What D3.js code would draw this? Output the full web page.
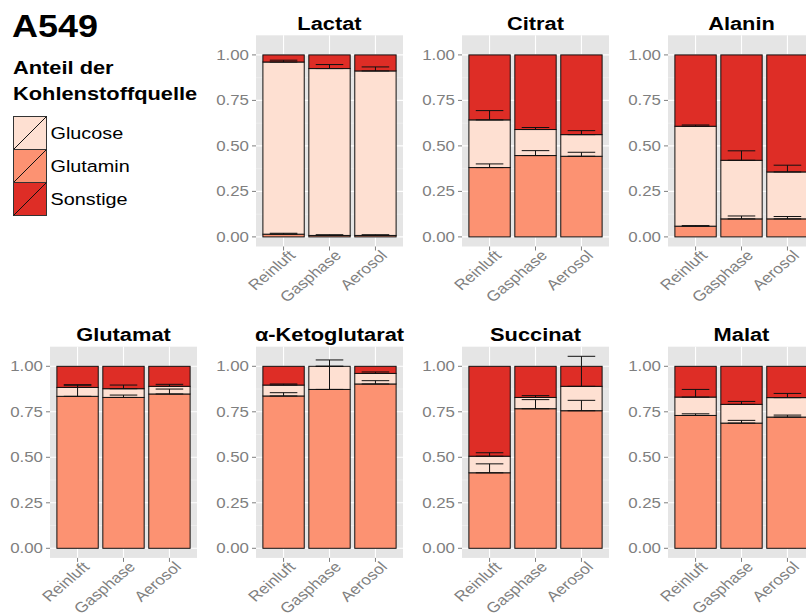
<!DOCTYPE html>
<html>
<head>
<meta charset="utf-8">
<script src="https://cdn.jsdelivr.net/npm/d3@7"></script>
<style>
  html, body { margin: 0; padding: 0; background: #ffffff; }
  svg { display: block; font-family: "Liberation Sans", Arial, sans-serif; }
</style>
</head>
<body>
<svg id="chart" width="806" height="615"></svg>
<script>
// Metabolites (one panel each) and the exposure conditions on each x axis
const metabolites = ["Lactat", "Citrat", "Alanin", "Glutamat", "α-Ketoglutarat", "Succinat", "Malat"];
const conditions = ["Reinluft", "Gasphase", "Aerosol"];
const sources = ["Glucose", "Glutamin", "Sonstige"];
const stackOrder = ["Glutamin", "Glucose", "Sonstige"]; // bottom to top
const yTicks = [0, 0.25, 0.5, 0.75, 1];
const yTickLabels = ["0.00", "0.25", "0.50", "0.75", "1.00"];

// Carbon-source fractions per metabolite: [Reinluft, Gasphase, Aerosol]
const glutaminShare = [
  [0.015, 0.008, 0.008],
  [0.381, 0.447, 0.443],
  [0.059, 0.099, 0.099],
  [0.835, 0.829, 0.848],
  [0.837, 0.873, 0.903],
  [0.415, 0.767, 0.756],
  [0.730, 0.688, 0.721]
];
const glucoseShare = [
  [0.946, 0.917, 0.904],
  [0.262, 0.143, 0.119],
  [0.549, 0.322, 0.258],
  [0.049, 0.048, 0.042],
  [0.060, 0.127, 0.058],
  [0.091, 0.062, 0.134],
  [0.101, 0.103, 0.107]
];
const otherShare = [
  [0.039, 0.075, 0.088],
  [0.357, 0.410, 0.438],
  [0.392, 0.579, 0.643],
  [0.116, 0.123, 0.110],
  [0.103, 0.000, 0.039],
  [0.494, 0.171, 0.110],
  [0.169, 0.209, 0.172]
];
// Standard deviations, drawn upward from the top of each stacked segment
const glutaminSd = [
  [0.005, 0.004, 0.004],
  [0.020, 0.027, 0.022],
  [0.003, 0.016, 0.013],
  [0.064, 0.013, 0.027],
  [0.018, 0.127, 0.018],
  [0.049, 0.050, 0.057],
  [0.009, 0.015, 0.011]
];
const glucoseSd = [
  [0.010, 0.022, 0.022],
  [0.051, 0.011, 0.022],
  [0.007, 0.052, 0.037],
  [0.012, 0.020, 0.011],
  [0.006, 0.035, 0.008],
  [0.019, 0.010, 0.165],
  [0.042, 0.016, 0.023]
];

// Panel grid placement (column, row) for each metabolite
const panelCol = [1, 2, 3, 0, 1, 2, 3];
const panelRow = [0, 0, 0, 1, 1, 1, 1];

const colors = { Glucose: "#FEE0D2", Glutamin: "#FC9272", Sonstige: "#DE2D26" };
const SX = 1.18; // horizontal stretch of the lettering

const svg = d3.select("#chart");

// Build tidy rows for every metabolite/condition
const rows = [];
metabolites.forEach((m, i) => {
  conditions.forEach((c, j) => {
    const vals = { Glutamin: glutaminShare[i][j], Glucose: glucoseShare[i][j], Sonstige: otherShare[i][j] };
    const sds = { Glutamin: glutaminSd[i][j], Glucose: glucoseSd[i][j], Sonstige: 0 };
    let cum = 0;
    stackOrder.forEach(s => {
      rows.push({ m: i, cond: c, source: s, y0: cum, y1: cum + vals[s], sd: sds[s] });
      cum += vals[s];
    });
  });
});

// Shared y domain with 5% expansion, as for facets with fixed scales
const yMaxData = d3.max(rows, d => d.y1 + d.sd);
const yMinData = 0;
const pad = 0.05 * (yMaxData - yMinData);
const yDomain = [yMinData - pad, yMaxData + pad];

const panelW = 147;
const colLeft = [50, 256, 462, 668];
const rowTop = [35.3, 346.7];
const panelH = 211.2;

function stretchedText(sel, x, y, extra) {
  return sel.attr("transform", `translate(${x},${y}) scale(${SX},1)` + (extra || ""));
}

metabolites.forEach((name, i) => {
  const left = colLeft[panelCol[i]];
  const top = rowTop[panelRow[i]];
  const g = svg.append("g").attr("transform", `translate(${left},${top})`);

  // discrete x: categories one step apart, 0.6 step of room on each side
  const x = d3.scalePoint().domain(conditions).range([0, panelW]).padding(0.6);
  const xc = c => x(c);
  const step = x.step();
  const barW = 0.9 * step;
  const errW = 0.6 * step;
  const y = d3.scaleLinear().domain(yDomain).range([panelH, 0]);

  // background
  g.append("rect").attr("width", panelW).attr("height", panelH).attr("fill", "#E5E5E5");
  // minor grid
  const minor = d3.range(0.125, 1, 0.25);
  g.selectAll("line.minor").data(minor).join("line")
    .attr("x1", 0).attr("x2", panelW)
    .attr("y1", d => y(d)).attr("y2", d => y(d))
    .attr("stroke", "#F2F2F2").attr("stroke-width", 0.6);
  // major grid
  g.selectAll("line.majorY").data(yTicks).join("line")
    .attr("x1", 0).attr("x2", panelW)
    .attr("y1", d => y(d)).attr("y2", d => y(d))
    .attr("stroke", "#FFFFFF").attr("stroke-width", 1.1);
  g.selectAll("line.majorX").data(conditions).join("line")
    .attr("x1", d => xc(d)).attr("x2", d => xc(d))
    .attr("y1", 0).attr("y2", panelH)
    .attr("stroke", "#FFFFFF").attr("stroke-width", 1.1);

  // stacked bars
  const pr = rows.filter(r => r.m === i);
  g.selectAll("rect.bar").data(pr).join("rect")
    .attr("x", d => xc(d.cond) - barW / 2)
    .attr("width", barW)
    .attr("y", d => y(d.y1))
    .attr("height", d => Math.max(0, y(d.y0) - y(d.y1)))
    .attr("fill", d => colors[d.source])
    .attr("stroke", "#111111").attr("stroke-width", 1);

  // error bars (upper half, from segment top)
  const eb = pr.filter(d => d.source !== "Sonstige");
  const ge = g.selectAll("g.err").data(eb).join("g");
  ge.append("line")
    .attr("x1", d => xc(d.cond)).attr("x2", d => xc(d.cond))
    .attr("y1", d => y(d.y1)).attr("y2", d => y(d.y1 + d.sd))
    .attr("stroke", "#111").attr("stroke-width", 1);
  ge.append("line")
    .attr("x1", d => xc(d.cond) - errW / 2).attr("x2", d => xc(d.cond) + errW / 2)
    .attr("y1", d => y(d.y1 + d.sd)).attr("y2", d => y(d.y1 + d.sd))
    .attr("stroke", "#111").attr("stroke-width", 1);
  ge.append("line")
    .attr("x1", d => xc(d.cond) - errW / 2).attr("x2", d => xc(d.cond) + errW / 2)
    .attr("y1", d => y(d.y1)).attr("y2", d => y(d.y1))
    .attr("stroke", "#111").attr("stroke-width", 1);

  // y axis ticks + labels
  g.selectAll("line.ytick").data(yTicks).join("line")
    .attr("x1", -4).attr("x2", 0)
    .attr("y1", d => y(d)).attr("y2", d => y(d))
    .attr("stroke", "#7F7F7F").attr("stroke-width", 1);
  g.selectAll("text.ylab").data(yTicks).join("text")
    .each(function (d) {
      stretchedText(d3.select(this), -7, y(d) + 5);
    })
    .attr("text-anchor", "end")
    .attr("font-size", 14.3)
    .attr("fill", "#7F7F7F")
    .text((d, k) => yTickLabels[k]);

  // x axis ticks + rotated labels
  g.selectAll("line.xtick").data(conditions).join("line")
    .attr("x1", d => xc(d)).attr("x2", d => xc(d))
    .attr("y1", panelH).attr("y2", panelH + 4)
    .attr("stroke", "#7F7F7F").attr("stroke-width", 1);
  g.selectAll("text.xlab").data(conditions).join("text")
    .each(function (d) {
      stretchedText(d3.select(this), xc(d) + 4, panelH + 2.5, " rotate(-45)");
    })
    .attr("text-anchor", "end")
    .attr("dy", "0.72em")
    .attr("font-size", 14.5)
    .attr("fill", "#7F7F7F")
    .text(d => d);

  // panel title
  stretchedText(g.append("text"), panelW / 2, -5.5)
    .attr("text-anchor", "middle")
    .attr("font-size", 18.5)
    .attr("font-weight", "bold")
    .attr("fill", "#000")
    .text(name);
});

// Figure title and legend
stretchedText(svg.append("text"), 12, 37)
  .attr("font-size", 30.5).attr("font-weight", "bold").attr("fill", "#000").text("A549");
stretchedText(svg.append("text"), 13, 74)
  .attr("font-size", 18.5).attr("font-weight", "bold").attr("fill", "#000").text("Anteil der");
stretchedText(svg.append("text"), 13, 100)
  .attr("font-size", 18.5).attr("font-weight", "bold").attr("fill", "#000").text("Kohlenstoffquelle");

const keySize = 33;
const legend = svg.append("g").attr("transform", "translate(13.5,116.5)");
const items = legend.selectAll("g").data(sources).join("g")
  .attr("transform", (d, k) => `translate(0,${k * keySize})`);
items.append("rect").attr("width", keySize).attr("height", keySize)
  .attr("fill", d => colors[d]).attr("stroke", "#333").attr("stroke-width", 1);
items.append("line").attr("x1", 0).attr("y1", keySize).attr("x2", keySize).attr("y2", 0)
  .attr("stroke", "#111").attr("stroke-width", 1);
items.append("text")
  .each(function () { stretchedText(d3.select(this), keySize + 4, keySize / 2 + 6); })
  .attr("font-size", 16.8).attr("fill", "#000").text(d => d);
</script>
</body>
</html>
